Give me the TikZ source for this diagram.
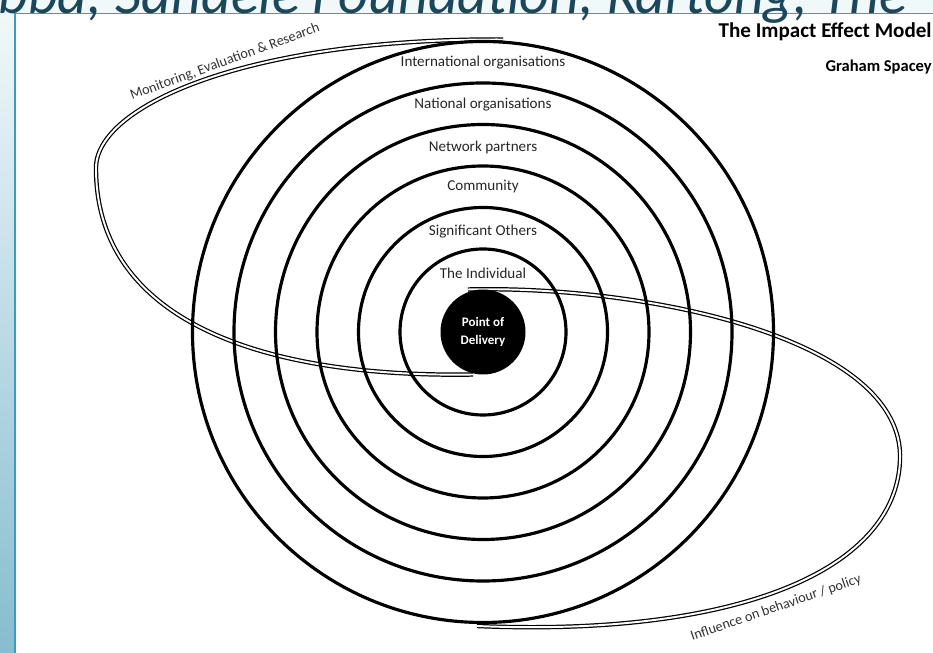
\documentclass[tikz,border=0pt]{standalone}
\usepackage{fontspec}
\setmainfont{Carlito}
\usetikzlibrary{positioning}

\definecolor{slideteal}{HTML}{3A9CBE}
\definecolor{slideink}{HTML}{1B475C}
\definecolor{slidestrip}{HTML}{86BDCF}
\definecolor{slidehead}{HTML}{F1F8FA}

\begin{document}
\begin{tikzpicture}[
    ring/.style={draw, line width=1.8pt},
    swoosh/.style={draw, line width=0.7pt, double=white, double distance=1.1pt},
    ringlabel/.style={font=\fontsize{8.6}{10}\selectfont, text=black!85, inner sep=0pt},
    sidelabel/.style={font=\fontsize{8.1}{10}\selectfont, text=black!80, inner sep=0pt, rotate=19},
    title/.style={font=\bfseries\fontsize{12}{14}\selectfont, anchor=base east, inner sep=0pt},
    core/.style={circle, fill=black, minimum size=1.7cm, inner sep=0pt, align=center, text=white, font=\bfseries\fontsize{7.4}{10.2}\selectfont}
]
\useasboundingbox (-9.66,6.64) rectangle (9.00,-6.42);

% slide frame: header strip, side gradient and rules
\begin{scope}
\clip (-9.66,6.64) rectangle (9.00,-6.42);
\fill[slidehead] (-9.66,6.64) rectangle (9.00,6.37);
\shade[top color=slidehead, bottom color=slidestrip] (-9.66,6.37) rectangle (-9.36,-6.42);
\draw[slideteal, line width=1.1pt] (-9.36,-6.42) -- (-9.36,6.37) -- (9.00,6.37);
\node[anchor=base west, inner sep=0pt, text=slideink, font=\itshape\fontsize{33}{33}\selectfont] (header) at (-9.70,6.36) {bba, Sandele Foundation, Kartong, The};
\end{scope}

% the two swooshes
\draw[swoosh] (-0.20,-0.85) .. controls (-4.46,-0.92) and (-7.74,0.24) .. (-7.74,3.28)
    .. controls (-7.74,4.54) and (-4.66,5.88) .. (0.40,5.85);
\draw[swoosh] (-0.30,0.85) .. controls (3.34,0.94) and (8.44,-0.16) .. (8.34,-2.56)
    .. controls (8.26,-4.80) and (5.00,-6.10) .. (-0.12,-5.88);

% rings of influence
\foreach \k in {2,...,7}
    \draw[ring] (0,0) circle[radius=0.83*\k];

\node[core] (pod) at (0,0) {Point of\\Delivery};

\node[ringlabel] (intl) at (0,5.38) {International organisations};
\node[ringlabel] (natl) at (0,4.54) {National organisations};
\node[ringlabel] (netw) at (0,3.70) {Network partners};
\node[ringlabel] (comm) at (0,2.90) {Community};
\node[ringlabel] (sigo) at (0,2.00) {Significant Others};
\node[ringlabel] (indv) at (0,1.18) {The Individual};

\node[sidelabel, rotate=1] (mer) at (-5.16,5.40) {Monitoring, Evaluation \& Research};
\node[sidelabel] (infl) at (5.86,-5.52) {Influence on behaviour / policy};

\node[title] (model) at (8.98,5.88) {The Impact Effect Model};
\node[title, font=\bfseries\fontsize{9.4}{11}\selectfont] (author) at (8.98,5.20) {Graham Spacey};
\end{tikzpicture}
\end{document}
